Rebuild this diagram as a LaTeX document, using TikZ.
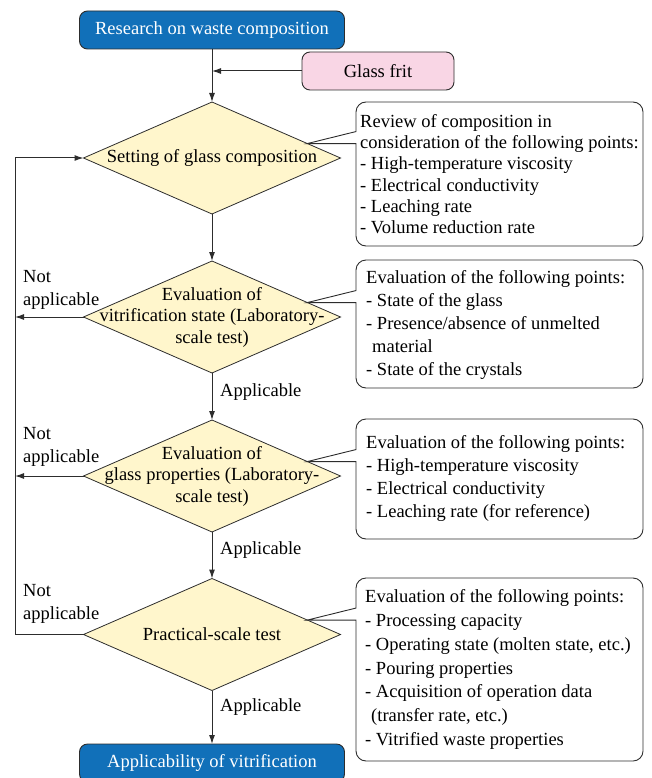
\documentclass[tikz,border=0pt]{standalone}
\usepackage{fontspec}
\setmainfont{Liberation Serif}
\usetikzlibrary{shapes.geometric,calc,arrows.meta}
\definecolor{boxblue}{RGB}{17,112,185}
\definecolor{fritpink}{RGB}{249,214,229}
\definecolor{diayellow}{RGB}{255,246,204}
\definecolor{lineclr}{RGB}{45,45,45}
\begin{document}
\begin{tikzpicture}[x=1pt,y=1pt,
  every node/.style={font=\rmfamily\fontsize{18.5}{22.5}\selectfont},
  bluebox/.style={draw=lineclr, line width=0.9pt, fill=boxblue, rounded corners=8pt, text=white, minimum width=265pt, minimum height=38pt, inner sep=0pt, outer sep=0pt},
  pinkbox/.style={draw=lineclr, line width=0.9pt, fill=fritpink, rounded corners=8pt, minimum width=152pt, minimum height=38pt, inner sep=0pt, outer sep=0pt},
  dia/.style={shape=diamond, draw=lineclr, line width=0.8pt, fill=diayellow, minimum width=257pt, minimum height=112pt, inner sep=0pt, outer sep=0pt},
  dtext/.style={align=center, inner sep=0pt, font=\rmfamily\fontsize{18.5}{21.5}\selectfont},
  flow/.style={draw=lineclr, line width=1pt, -{Latex[length=9pt,width=6pt]}},
  callout/.style={draw=lineclr, line width=0.9pt, fill=white},
  ctext/.style={align=left, anchor=west, inner sep=0pt},
  lbl/.style={align=left, anchor=west, inner sep=0pt},
]
\useasboundingbox (0,0) rectangle (652,-778);
\clip (0,0) rectangle (652,-778);

% boxes and decisions
\node[bluebox] (top) at (212,-30) {Research on waste composition};
\node[pinkbox] (frit) at (378,-71) {Glass frit};
\node[dia] (d1) at (212,-158) {};
\node[dtext] (t1) at (d1) {Setting of glass composition};
\node[dia] (d2) at (212,-317) {};
\node[dtext] (t2) at (d2) {Evaluation of\\vitrification state (Laboratory-\\scale test)};
\node[dia] (d3) at (212,-476) {};
\node[dtext] (t3) at (d3) {Evaluation of\\glass properties (Laboratory-\\scale test)};
\node[dia] (d4) at (212,-634.5) {};
\node[dtext] (t4) at (d4) {Practical-scale test};
\node[bluebox] (bot) at (212,-763) {Applicability of vitrification};

% callout outlines
\newcommand\mycallout[3]{%
  \path let \p1 = ($(#1.north)!0.742!(#1.east)$) in
    [callout] (\p1) -- (356,\y1+12) -- (356,#2-10)
    arc[start angle=180,end angle=90,radius=10] -- (633,#2)
    arc[start angle=90,end angle=0,radius=10] -- (643,#3+10)
    arc[start angle=0,end angle=-90,radius=10] -- (366,#3)
    arc[start angle=-90,end angle=-180,radius=10] -- (356,\y1) -- cycle;}
\mycallout{d1}{-102}{-246}
\mycallout{d2}{-260}{-388}
\mycallout{d3}{-419}{-539}
\mycallout{d4}{-578}{-761}

% callout texts
\node[ctext, font=\rmfamily\fontsize{18.5}{21.3}\selectfont] (c1) at (360,-174) {Review of composition in\\consideration of the following points:\\- High-temperature viscosity\\- Electrical conductivity\\- Leaching rate\\- Volume reduction rate};
\node[ctext, font=\rmfamily\fontsize{18.5}{23.2}\selectfont] (c2) at (366,-325) {Evaluation of the following points:\\- State of the glass\\- Presence/absence of unmelted\\\hspace*{6pt}material\\- State of the crystals};
\node[ctext, font=\rmfamily\fontsize{18.5}{23}\selectfont] (c3) at (366,-478) {Evaluation of the following points:\\- High-temperature viscosity\\- Electrical conductivity\\- Leaching rate (for reference)};
\node[ctext, font=\rmfamily\fontsize{18.5}{23.8}\selectfont] (c4) at (365,-669.5) {Evaluation of the following points:\\- Processing capacity\\- Operating state (molten state, etc.)\\- Pouring properties\\- Acquisition of operation data\\\hspace*{6pt}(transfer rate, etc.)\\- Vitrified waste properties};

% labels
\node[lbl] (n2) at (23,-290) {Not\\applicable};
\node[lbl] (n3) at (23,-447) {Not\\applicable};
\node[lbl] (n4) at (23,-604) {Not\\applicable};
\node[lbl] (a2) at (220,-392) {Applicable};
\node[lbl] (a3) at (220,-550) {Applicable};
\node[lbl] (a4) at (220,-707) {Applicable};

% connectors
\coordinate (loopx) at (15,0);
\coordinate (j) at (frit.west -| top.south);
\draw[flow] (top.south) -- (d1.north);
\draw[flow] (frit.west) -- (j);
\draw[flow] (d1.south) -- (d2.north);
\draw[flow] (d2.south) -- (d3.north);
\draw[flow] (d3.south) -- (d4.north);
\draw[flow] (d4.south) -- (bot.north);
\draw[flow] (d2.west) -- (d2.west -| loopx);
\draw[flow] (d3.west) -- (d3.west -| loopx);
\draw[flow] (d4.west) -- (d4.west -| loopx) -- (d1.west -| loopx) -- (d1.west);
\end{tikzpicture}
\end{document}
